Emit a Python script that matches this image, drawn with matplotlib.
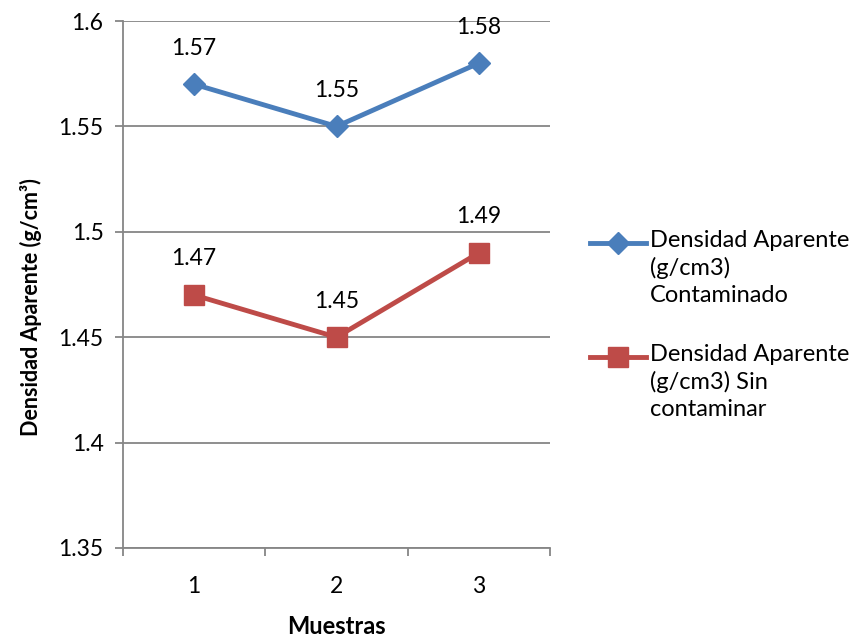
import matplotlib
matplotlib.use("Agg")
import matplotlib.pyplot as plt
from matplotlib.lines import Line2D
from matplotlib.ticker import FixedLocator, NullFormatter, FixedFormatter

plt.rcParams["font.family"] = ["Lato", "DejaVu Sans"]

# Data
muestras = [1, 2, 3]
contaminado = [1.57, 1.55, 1.58]
sin_contaminar = [1.47, 1.45, 1.49]
labels = [
    "Densidad Aparente\n(g/cm3)\nContaminado",
    "Densidad Aparente\n(g/cm3) Sin\ncontaminar",
]
y_ticks = [1.35, 1.4, 1.45, 1.5, 1.55, 1.6]

BLUE = "#4A7EBB"
RED = "#BE4B48"
GRID = "#868686"
FS = 16.5

W, H = 863, 637
fig = plt.figure(figsize=(W / 100, H / 100), dpi=100)
ax = fig.add_axes([123 / W, 1 - 548 / H, (550 - 123) / W, (548 - 21) / H])

series = [
    (contaminado, BLUE, "D", 11),
    (sin_contaminar, RED, "s", 14),
]
for vals, color, marker, ms in series:
    ax.plot(muestras, vals, color=color, lw=3.5, marker=marker, ms=ms, zorder=3)
    for x, y in zip(muestras, vals):
        ax.annotate(f"{y:.2f}", (x, y), xytext=(0, 26), textcoords="offset points",
                    ha="center", va="center", fontsize=FS)

ax.set_xlim(0.5, 3.5)
ax.set_ylim(1.35, 1.6)
ax.set_yticks(y_ticks)
ax.set_yticklabels([f"{v:g}" for v in y_ticks])
ax.yaxis.grid(True, color=GRID, lw=1.3)
ax.set_axisbelow(True)

# category boundaries get the tick marks, labels sit at the centers
ax.xaxis.set_major_locator(FixedLocator([0.5, 1.5, 2.5, 3.5]))
ax.xaxis.set_major_formatter(NullFormatter())
ax.xaxis.set_minor_locator(FixedLocator(muestras))
ax.xaxis.set_minor_formatter(FixedFormatter([str(m) for m in muestras]))
ax.tick_params(axis="x", which="major", length=6, color=GRID, width=1.3)
ax.tick_params(axis="x", which="minor", length=0, pad=20, labelsize=FS)
ax.tick_params(axis="y", length=6, color=GRID, width=1.3, labelsize=FS, pad=8)

for s in ["top", "right"]:
    ax.spines[s].set_visible(False)
for s in ["left", "bottom"]:
    ax.spines[s].set_color(GRID)
    ax.spines[s].set_linewidth(1.3)

ax.set_xlabel("Muestras", fontsize=17, fontweight="bold", labelpad=13)
ax.set_ylabel("Densidad Aparente (g/cm³)", fontsize=15.5, fontweight="bold", labelpad=12)
ax.yaxis.label.set_y(0.457)

# legend: handle lines up with the first line of each wrapped label
legend_rows = [(243, 0), (357, 1)]
for y_px, i in legend_rows:
    vals, color, marker, ms = series[i]
    yf = 1 - y_px / H
    fig.add_artist(Line2D([590 / W, 618 / W, 646 / W], [yf, yf, yf],
                          transform=fig.transFigure, color=color, lw=3.5,
                          marker=marker, ms=ms, markevery=[1]))
    fig.text(650 / W, 1 - (y_px - 13) / H, labels[i], fontsize=17,
             ha="left", va="top", linespacing=1.33)

fig.savefig("out.png", dpi=100)
